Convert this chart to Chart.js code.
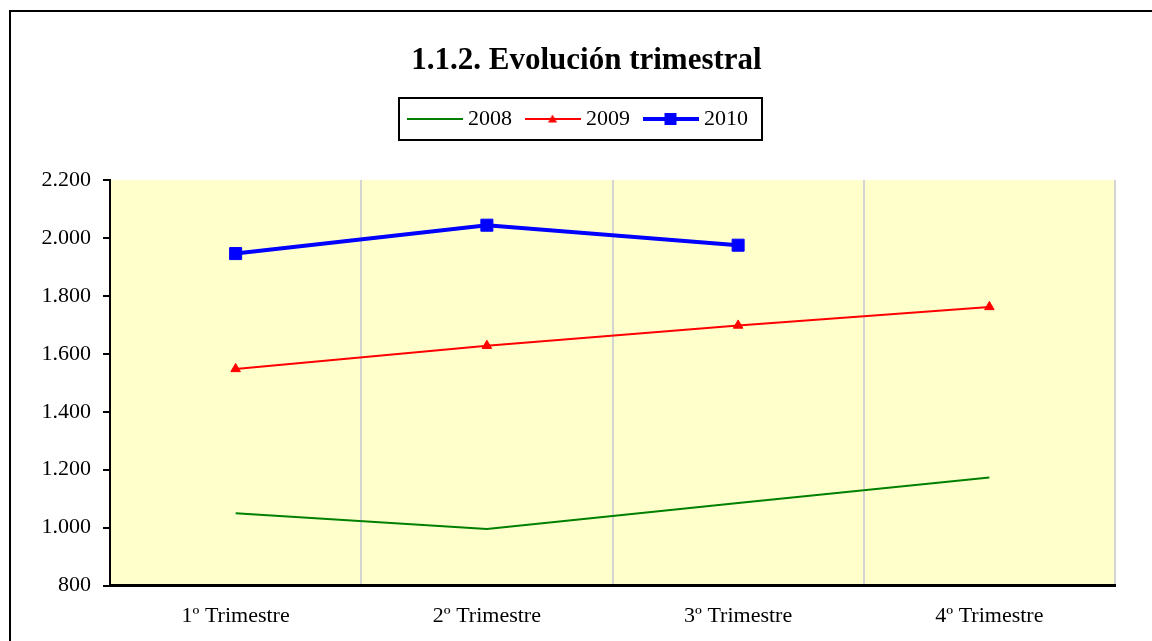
<!DOCTYPE html>
<html>
<head>
<meta charset="utf-8">
<script src="https://cdn.jsdelivr.net/npm/chart.js@4"></script>
<style>
  body { margin: 0; background: #fff; }
  #wrap { width: 1152px; height: 641px; }
</style>
</head>
<body>
<div id="wrap"><canvas id="chart" width="1152" height="641"></canvas></div>
<script>
// datos
const trimestres = ['1º Trimestre', '2º Trimestre', '3º Trimestre', '4º Trimestre'];
const serie2008 = [1050, 995, 1085, 1173];
const serie2009 = [1548, 1628, 1698, 1762];
const serie2010 = [1946, 2044, 1975, null];
const yTicks = [800, 1000, 1200, 1400, 1600, 1800, 2000, 2200];

const serif = "'Liberation Serif', 'Times New Roman', serif";

function fmt(v) {
  return String(v).replace(/\B(?=(\d{3})+(?!\d))/g, '.');
}

// pequeñas imágenes para la leyenda (línea + marcador)
function legendIcon(color, lw, marker) {
  const c = document.createElement('canvas');
  c.width = 56; c.height = 16;
  const g = c.getContext('2d');
  g.strokeStyle = color; g.fillStyle = color; g.lineWidth = lw;
  g.beginPath(); g.moveTo(0, 8); g.lineTo(56, 8); g.stroke();
  if (marker === 'triangle') {
    g.beginPath(); g.moveTo(28, 3.5); g.lineTo(32.5, 11.5); g.lineTo(23.5, 11.5); g.closePath(); g.fill();
  } else if (marker === 'rect') {
    g.fillRect(22, 2, 12, 12);
  }
  return c;
}
const icons = [
  legendIcon('#008000', 2, null),
  legendIcon('#FF0000', 2, 'triangle'),
  legendIcon('#0000FF', 4, 'rect')
];

const framePlugin = {
  id: 'frame',
  afterLayout(chart) {
    // título y leyenda algo desplazados respecto al centro en el original
    chart.titleBlock.left += 9;
    chart.titleBlock.right += 9;
    chart.legend.left += 2.5;
    chart.legend.right += 2.5;
  },
  beforeDraw(chart) {
    const ctx = chart.ctx, a = chart.chartArea;
    ctx.save();
    ctx.fillStyle = '#FFFFCC';
    ctx.fillRect(a.left, a.top, a.right - a.left, a.bottom - a.top);
    ctx.strokeStyle = '#000'; ctx.lineWidth = 2;
    ctx.strokeRect(10, 11, 1300, 800);
    ctx.restore();
  },
  afterDraw(chart) {
    const hb = chart.legend.legendHitBoxes;
    if (!hb || !hb.length) return;
    const first = hb[0], last = hb[hb.length - 1];
    const cy = first.top + first.height / 2;
    const ctx = chart.ctx;
    ctx.save();
    ctx.strokeStyle = '#000'; ctx.lineWidth = 2;
    ctx.strokeRect(first.left - 13, cy - 21, last.left + last.width + 14 - (first.left - 13), 42);
    ctx.restore();
  }
};

new Chart(document.getElementById('chart'), {
  type: 'line',
  data: {
    labels: trimestres,
    datasets: [
      { label: '2008', data: serie2008, borderColor: '#008000', backgroundColor: '#008000',
        borderWidth: 2, pointRadius: 0 },
      { label: '2009', data: serie2009, borderColor: '#FF0000', backgroundColor: '#FF0000',
        borderWidth: 2, pointStyle: 'triangle', pointRadius: 5.5, pointBorderWidth: 1 },
      { label: '2010', data: serie2010, borderColor: '#0000FF', backgroundColor: '#0000FF',
        borderWidth: 4, pointStyle: 'rect', pointRadius: 8.5, pointBorderWidth: 1 }
    ]
  },
  options: {
    responsive: false,
    animation: false,
    devicePixelRatio: 1,
    layout: { padding: { top: 0, left: 40, right: 37, bottom: -5 } },
    plugins: {
      title: {
        display: true, text: '1.1.2. Evolución trimestral', color: '#000', weight: 2000,
        font: { family: serif, size: 31, weight: 'bold' },
        padding: { top: 42.4, bottom: 10.4 }
      },
      legend: {
        display: true, position: 'top', weight: 1800,
        labels: {
          color: '#000', font: { family: serif, size: 22 },
          usePointStyle: true, pointStyleWidth: 45, padding: 18,
          generateLabels: (chart) => chart.data.datasets.map((ds, i) => ({
            text: ds.label, pointStyle: icons[i], fillStyle: ds.borderColor,
            strokeStyle: ds.borderColor, lineWidth: 0, hidden: false, datasetIndex: i, fontColor: '#000'
          }))
        }
      },
      subtitle: {
        display: true, text: '', weight: 1000,
        font: { size: 10 }, padding: { top: 28, bottom: 0 }
      },
      tooltip: { enabled: false }
    },
    scales: {
      x: {
        offset: true,
        grid: { display: true, offset: true, drawTicks: false, color: '#d4d4d4', lineWidth: 2 },
        border: { display: true, color: '#000', width: 3 },
        ticks: { color: '#000', font: { family: serif, size: 22 }, padding: 17, maxRotation: 0 }
      },
      y: {
        min: yTicks[0], max: yTicks[yTicks.length - 1],
        afterBuildTicks: (scale) => { scale.ticks = yTicks.map(v => ({ value: v })); },
        afterFit: (scale) => { scale.width = 70; },
        grid: { display: true, drawOnChartArea: false, drawTicks: true, tickLength: 7, color: '#000', lineWidth: 2 },
        border: { display: true, color: '#000', width: 2 },
        ticks: { color: '#000', font: { family: serif, size: 22 }, padding: 12,
          callback: (v) => fmt(v) }
      }
    }
  },
  plugins: [framePlugin]
});
</script>
</body>
</html>
